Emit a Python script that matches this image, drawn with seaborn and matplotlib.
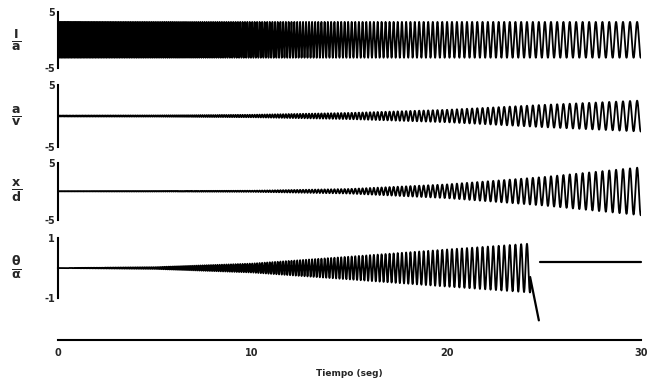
import numpy as np
import pandas as pd
import matplotlib.pyplot as plt
import seaborn as sns

# barrido de frecuencia (Hz)
t_frec = [0, 10, 15, 20, 25, 30]
frec = [14.0, 8.0, 5.5, 4.0, 3.2, 2.7]

# envolventes de amplitud
t_env = [0, 5, 10, 15, 20, 25, 30]
env_1 = [3.2, 3.2, 3.2, 3.2, 3.2, 3.2, 3.2]
env_2 = [0.08, 0.1, 0.2, 0.5, 1.0, 1.8, 2.5]
env_3 = [0.03, 0.05, 0.1, 0.4, 1.2, 2.5, 4.2]
env_4 = [0.0, 0.03, 0.15, 0.38, 0.62, 0.85, 0.85]

# fin de la senal 4 (caida y linea final)
t_caida = [24.3, 24.75]
y_caida = [-0.3, -1.75]
t_final = [24.8, 30.0]
y_final = [0.2, 0.2]

etiquetas = [r"$\mathbf{\frac{I}{a}}$", r"$\mathbf{\frac{a}{v}}$",
             r"$\mathbf{\frac{x}{d}}$", r"$\mathbf{\frac{\theta}{\alpha}}$"]
limites = [5, 5, 5, 1]

t = np.linspace(0, 30, 30000)
f = np.exp(np.interp(t, t_frec, np.log(frec)))
fase = 2 * np.pi * np.cumsum(f) * (t[1] - t[0])
base = np.sin(fase)

senales = []
for env in [env_1, env_2, env_3, env_4]:
    senales.append(np.interp(t, t_env, env) * base)

# recortar senal 4 en la caida
s4 = senales[3].copy()
s4[t > t_caida[0]] = np.nan
senales[3] = s4

sns.set_style("white")
plt.rcParams['font.family'] = ['DejaVu Sans']

fig = plt.figure(figsize=(6.56, 3.81), dpi=100)
pos = [(0.088, 0.822, 0.889, 0.147),
       (0.088, 0.614, 0.889, 0.163),
       (0.088, 0.423, 0.889, 0.150),
       (0.088, 0.218, 0.889, 0.157)]

for i in range(4):
    ax = fig.add_axes(pos[i])
    df = pd.DataFrame({'t': t, 'y': senales[i]})
    sns.lineplot(data=df, x='t', y='y', color='black', linewidth=1.3,
                 estimator=None, sort=False, ax=ax)
    if i == 3:
        sns.lineplot(x=[t[t <= t_caida[0]][-1]] + t_caida, y=[s4[t <= t_caida[0]][-1]] + y_caida,
                     color='black', linewidth=1.6, estimator=None, sort=False, ax=ax)
        sns.lineplot(x=t_final, y=y_final, color='black', linewidth=1.6,
                     estimator=None, sort=False, ax=ax)
        for ln in ax.lines:
            ln.set_clip_on(False)
    lim = limites[i]
    ax.set_xlim(0, 30)
    ax.set_ylim(-lim, lim)
    ax.set_yticks([-lim, lim])
    ax.set_yticklabels([str(-lim), str(lim)], fontsize=7, fontweight='bold')
    ax.set_xticks([])
    ax.set_xlabel('')
    ax.set_ylabel(etiquetas[i], rotation=0, fontsize=13, labelpad=20, va='center')
    for s in ['top', 'right', 'bottom']:
        ax.spines[s].set_visible(False)
    ax.spines['left'].set_linewidth(1.5)
    ax.spines['left'].set_color('black')
    ax.tick_params(axis='y', length=0, pad=2)
    ax.patch.set_alpha(0)

# eje de tiempo
axt = fig.add_axes((0.088, 0.108, 0.889, 0.001))
axt.set_xlim(0, 30)
axt.set_xticks([0, 10, 20, 30])
axt.set_xticks([5, 15, 25], minor=True)
axt.set_xticklabels(['0', '10', '20', '30'], fontsize=7, fontweight='bold')
axt.tick_params(axis='x', direction='in', length=4, width=1.2, which='both', pad=6, color='black')
axt.set_yticks([])
for s in ['top', 'right', 'left']:
    axt.spines[s].set_visible(False)
axt.spines['bottom'].set_linewidth(1.5)
axt.spines['bottom'].set_color('black')
axt.set_xlabel('Tiempo (seg)', fontsize=6.5, fontweight='bold', labelpad=8)

fig.savefig('out.png', dpi=100, facecolor='white')
